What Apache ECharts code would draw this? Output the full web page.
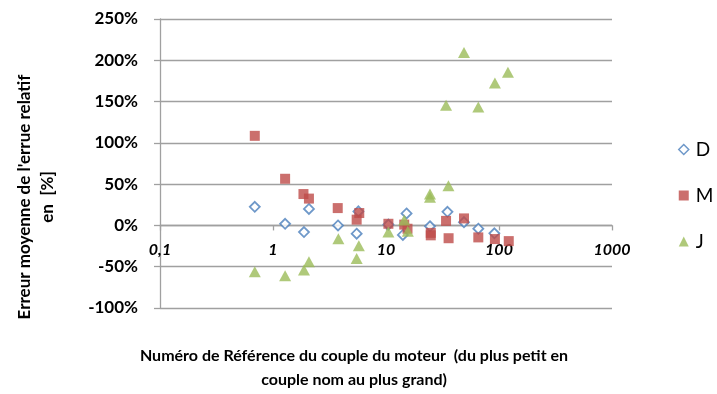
<!DOCTYPE html>
<html>
<head>
<meta charset="utf-8">
<script src="https://cdn.jsdelivr.net/npm/echarts@6/dist/echarts.min.js"></script>
<style>
  html, body { margin: 0; padding: 0; background: #fff; }
  #chart { width: 717px; height: 394px; }
</style>
</head>
<body>
<div id="chart"></div>
<script>
// Reference numbers (x, log scale) and mean relative error in % (y) per series
const seriesNames = ['D', 'M', 'J'];

const dX = [0.69, 1.28, 1.88, 2.08, 3.76, 5.5, 5.7, 10.5, 14.1, 15.2, 24.5, 35, 49, 65.6, 91];
const dY = [22.5, 2, -8, 20, 0, -10, 17, 1, -11.5, 14.5, -1, 16.5, 4, -4, -9.5];

const mX = [0.69, 1.28, 1.86, 2.08, 3.74, 5.5, 5.8, 10.5, 14.5, 15.5, 24.9, 24.9, 34, 35.8, 49, 65.6, 92, 122];
const mY = [108.5, 56.5, 38, 32.5, 21, 7, 15, 2, 1, -4, -9, -12, 5.5, -15.5, 8.5, -14.5, -16.5, -19];

const jX = [0.69, 1.28, 1.88, 2.08, 3.79, 5.5, 5.75, 10.5, 14.5, 15.6, 24.5, 24.5, 34, 35.7, 49, 65.6, 92, 120];
const jY = [-56, -61, -54, -44, -16, -40, -24.5, -8, 6.5, -7, 38, 34, 145.5, 48, 209.5, 143.5, 172.5, 185.5];

// Axis ranges and tick values
const xMin = 0.1, xMax = 1000;
const yMin = -100, yMax = 250, yStep = 50;

const xTitle = 'Numéro de Référence du couple du moteur  (du plus petit en\ncouple nom au plus grand)';
const yTitle = "Erreur moyenne de l'errue relatif\nen  [%]";

const FONT = 'Lato, "Open Sans", sans-serif';
const GRID_COLOR = '#a0a0a0';

// Plot area
const GRID = { left: 160, right: 105, top: 19, bottom: 86 };
const plotHeight = 394 - GRID.top - GRID.bottom;
// The x axis crosses the value axis at 0 %
const zeroOffset = -plotHeight * (0 - yMin) / (yMax - yMin);

function pairs(xs, ys) {
  return xs.map((x, i) => [x, ys[i]]);
}

const chart = echarts.init(document.getElementById('chart'), null, { renderer: 'canvas' });

chart.setOption({
  backgroundColor: '#ffffff',
  animation: false,
  textStyle: { fontFamily: FONT },
  grid: Object.assign({ containLabel: false, outerBoundsMode: 'none' }, GRID),
  xAxis: {
    type: 'log',
    logBase: 10,
    min: xMin,
    max: xMax,
    position: 'bottom',
    offset: zeroOffset,
    axisLine: { onZero: false, lineStyle: { color: GRID_COLOR, width: 1.3 } },
    axisTick: { show: true, inside: false, length: 5, lineStyle: { color: GRID_COLOR, width: 1.3 } },
    minorTick: { show: false },
    splitLine: { show: false },
    axisLabel: {
      color: '#000',
      fontFamily: FONT,
      fontWeight: 'bold',
      fontStyle: 'italic',
      fontSize: 16,
      margin: 16,
      formatter: v => String(v).replace('.', ',')
    }
  },
  yAxis: {
    type: 'value',
    min: yMin,
    max: yMax,
    interval: yStep,
    axisLine: { show: true, onZero: false, lineStyle: { color: GRID_COLOR, width: 1.3 } },
    axisTick: { show: true, length: 6, lineStyle: { color: GRID_COLOR, width: 1.3 } },
    splitLine: { show: true, lineStyle: { color: GRID_COLOR, width: 1.3 } },
    axisLabel: {
      color: '#000',
      fontFamily: FONT,
      fontWeight: 'bold',
      fontSize: 17,
      margin: 22,
      formatter: '{value}%'
    }
  },
  legend: {
    orient: 'vertical',
    left: 673,
    top: 135,
    itemWidth: 10,
    itemHeight: 10,
    itemGap: 27,
    textStyle: { color: '#000', fontSize: 19, fontFamily: FONT, padding: [0, 0, 0, 2] },
    data: [
      { name: seriesNames[0], icon: 'diamond', itemStyle: { color: '#fff', borderColor: '#4a7ebb', borderWidth: 1.5 } },
      { name: seriesNames[1], icon: 'rect' },
      { name: seriesNames[2], icon: 'triangle' }
    ]
  },
  graphic: [
    {
      type: 'text',
      x: 36, y: 197,
      rotation: Math.PI / 2,
      style: {
        text: yTitle,
        fill: '#000',
        font: 'bold 17px ' + FONT,
        align: 'center',
        verticalAlign: 'middle',
        lineHeight: 23
      }
    },
    {
      type: 'text',
      x: 354, y: 368,
      style: {
        text: xTitle,
        fill: '#000',
        font: 'bold 16px ' + FONT,
        align: 'center',
        verticalAlign: 'middle',
        lineHeight: 24
      }
    }
  ],
  series: [
    {
      name: seriesNames[0],
      type: 'scatter',
      symbol: 'diamond',
      symbolSize: 10,
      itemStyle: { color: '#fff', borderColor: '#4a7ebb', borderWidth: 1.8 },
      data: pairs(dX, dY),
      z: 2
    },
    {
      name: seriesNames[1],
      type: 'scatter',
      symbol: 'rect',
      symbolSize: 10,
      itemStyle: { color: '#be4b48' },
      data: pairs(mX, mY),
      z: 3
    },
    {
      name: seriesNames[2],
      type: 'scatter',
      symbol: 'triangle',
      symbolSize: [12, 11],
      itemStyle: { color: '#9bbb59' },
      data: pairs(jX, jY),
      z: 4
    }
  ]
});
</script>
</body>
</html>
